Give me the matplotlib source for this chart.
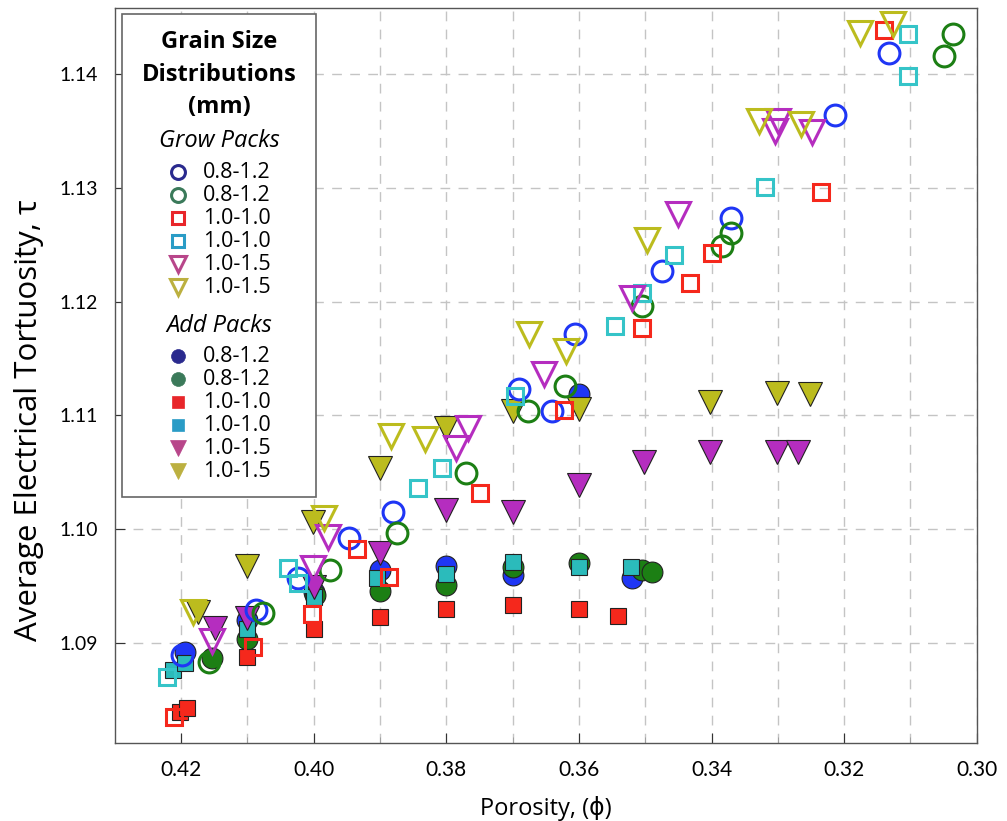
import numpy as np
import matplotlib.pyplot as plt
from matplotlib.patches import Rectangle
from matplotlib.lines import Line2D

plt.rcParams['font.family'] = ['Lato', 'DejaVu Sans']

# ---------------------------------------------------------------- data
# Grow packs (open markers)
grow_b12_phi = [0.4199, 0.4087, 0.4024, 0.3947, 0.3881, 0.3690, 0.3641, 0.3606, 0.3475, 0.3371, 0.3214, 0.3133]
grow_b12_tau = [1.0889, 1.0929, 1.0957, 1.0992, 1.1015, 1.1123, 1.1104, 1.1172, 1.1227, 1.1274, 1.1364, 1.1419]

grow_g12_phi = [0.4158, 0.4077, 0.3976, 0.3875, 0.3771, 0.3677, 0.3621, 0.3505, 0.3385, 0.3370, 0.3050, 0.3036]
grow_g12_tau = [1.0883, 1.0926, 1.0964, 1.0997, 1.1049, 1.1104, 1.1126, 1.1196, 1.1249, 1.1260, 1.1416, 1.1435]

grow_r10_phi = [0.4211, 0.4092, 0.4003, 0.3934, 0.3886, 0.3749, 0.3623, 0.3505, 0.3433, 0.3399, 0.3235, 0.3140]
grow_r10_tau = [1.0835, 1.0896, 1.0925, 1.0983, 1.0958, 1.1032, 1.1105, 1.1177, 1.1216, 1.1243, 1.1296, 1.1439]

grow_c10_phi = [0.4221, 0.4039, 0.4023, 0.3842, 0.3806, 0.3696, 0.3546, 0.3505, 0.3457, 0.3320, 0.3104, 0.3104]
grow_c10_tau = [1.0870, 1.0966, 1.0953, 1.1036, 1.1054, 1.1117, 1.1179, 1.1208, 1.1241, 1.1301, 1.1398, 1.1435]

grow_m15_phi = [0.4153, 0.4001, 0.3979, 0.3785, 0.3768, 0.3653, 0.3520, 0.3450, 0.3305, 0.3300, 0.3248]
grow_m15_tau = [1.0902, 1.0966, 1.0993, 1.1071, 1.1089, 1.1136, 1.1203, 1.1277, 1.1350, 1.1359, 1.1349]

grow_y15_phi = [0.4182, 0.3984, 0.3883, 0.3832, 0.3675, 0.3620, 0.3498, 0.3328, 0.3265, 0.3176, 0.3126]
grow_y15_tau = [1.0927, 1.1010, 1.1082, 1.1079, 1.1172, 1.1157, 1.1254, 1.1359, 1.1356, 1.1436, 1.1444]

# Add packs (filled markers)
add_b12_phi = [0.4194, 0.4100, 0.4000, 0.3900, 0.3801, 0.3700, 0.3600, 0.3520]
add_b12_tau = [1.0892, 1.0920, 1.0945, 1.0964, 1.0968, 1.0960, 1.1119, 1.0957]

add_g12_phi = [0.4153, 0.4100, 0.3998, 0.3900, 0.3801, 0.3700, 0.3600, 0.3505, 0.3490]
add_g12_tau = [1.0887, 1.0903, 1.0942, 1.0946, 1.0951, 1.0967, 1.0970, 1.0964, 1.0962]

add_r10_phi = [0.4202, 0.4191, 0.4100, 0.4000, 0.3900, 0.3801, 0.3700, 0.3600, 0.3541]
add_r10_tau = [1.0839, 1.0843, 1.0888, 1.0912, 1.0923, 1.0930, 1.0933, 1.0930, 1.0924]

add_c10_phi = [0.4212, 0.4194, 0.4100, 0.4000, 0.3904, 0.3801, 0.3700, 0.3600, 0.3522]
add_c10_tau = [1.0876, 1.0882, 1.0912, 1.0940, 1.0957, 1.0961, 1.0971, 1.0967, 1.0967]

add_m15_phi = [0.4149, 0.4100, 0.4000, 0.3900, 0.3801, 0.3700, 0.3600, 0.3502, 0.3402, 0.3302, 0.3269]
add_m15_tau = [1.0913, 1.0922, 1.0949, 1.0979, 1.1017, 1.1015, 1.1039, 1.1059, 1.1068, 1.1068, 1.1068]

add_y15_phi = [0.4174, 0.4100, 0.4001, 0.3900, 0.3800, 0.3700, 0.3600, 0.3402, 0.3302, 0.3251]
add_y15_tau = [1.0927, 1.0968, 1.1006, 1.1054, 1.1089, 1.1104, 1.1106, 1.1112, 1.1120, 1.1119]

labels = ['0.8-1.2', '0.8-1.2', '1.0-1.0', '1.0-1.0', '1.0-1.5', '1.0-1.5']

# ---------------------------------------------------------------- styles
blue = '#1f36f5'
green = '#1c7f14'
red = '#f5281c'
cyan_open = '#35c4c8'
cyan_fill = '#2bbbbb'
magenta = '#b52dbf'
olive = '#bcbc1e'
txt_font = ['Open Sans', 'DejaVu Sans']

fig = plt.figure(figsize=(10.07, 8.21), dpi=100)
ax = fig.add_axes([0.114, 0.095, 0.856, 0.895])

def filled(x, y, marker, color, ms):
    ax.plot(x, y, ls='none', marker=marker, ms=ms, mfc=color, mec='#222222', mew=0.8, zorder=3)

def hollow(x, y, marker, color, ms):
    ax.plot(x, y, ls='none', marker=marker, ms=ms, mfc='none', mec=color, mew=2.2, zorder=4)

filled(add_b12_phi, add_b12_tau, 'o', blue, 15)
filled(add_g12_phi, add_g12_tau, 'o', green, 15)
filled(add_r10_phi, add_r10_tau, 's', red, 12)
filled(add_c10_phi, add_c10_tau, 's', cyan_fill, 12)
filled(add_m15_phi, add_m15_tau, 'v', magenta, 17)
filled(add_y15_phi, add_y15_tau, 'v', olive, 17)

hollow(grow_b12_phi, grow_b12_tau, 'o', blue, 15)
hollow(grow_g12_phi, grow_g12_tau, 'o', green, 15)
hollow(grow_r10_phi, grow_r10_tau, 's', red, 12)
hollow(grow_c10_phi, grow_c10_tau, 's', cyan_open, 12)
hollow(grow_m15_phi, grow_m15_tau, 'v', magenta, 17)
hollow(grow_y15_phi, grow_y15_tau, 'v', olive, 17)

# ---------------------------------------------------------------- axes
ax.set_xlim(0.43, 0.30)
ax.set_ylim(1.0812, 1.1458)
ax.set_xticks(np.arange(0.42, 0.299, -0.02))
ax.set_xticklabels(['0.42', '0.40', '0.38', '0.36', '0.34', '0.32', '0.30'])
ax.set_xticks(np.arange(0.41, 0.30, -0.02), minor=True)
ax.set_yticks(np.arange(1.09, 1.1401, 0.01))
ax.set_yticklabels(['1.09', '1.10', '1.11', '1.12', '1.13', '1.14'])
ax.tick_params(axis='both', which='major', direction='in', length=7, labelsize=14, pad=12,
               color='#333333')
ax.tick_params(axis='x', labelsize=15)
ax.tick_params(axis='x', which='minor', direction='in', length=4, color='#999999')
ax.grid(True, which='both', ls=(0, (7, 6)), color='#c4c4c4', lw=1.0)
ax.set_axisbelow(True)
for s in ax.spines.values():
    s.set_color('#555555')
    s.set_linewidth(1.0)

ax.set_xlabel('Porosity, (ϕ)', fontsize=17, labelpad=12, family=txt_font)
ax.set_ylabel('Average Electrical Tortuosity, τ', fontsize=22.5, labelpad=8, family=txt_font)
ax.yaxis.set_label_coords(-0.082, 0.44)

# ---------------------------------------------------------------- legend box
tr = ax.transAxes
ax.add_patch(Rectangle((0.008, 0.335), 0.225, 0.657, transform=tr, facecolor='white',
                       edgecolor='#666666', lw=1.2, zorder=10))
cx = 0.121
for yy, txt in [(0.954, 'Grain Size'), (0.909, 'Distributions'), (0.865, '(mm)')]:
    ax.text(cx, yy, txt, transform=tr, ha='center', va='center', fontsize=17,
            fontweight='bold', family=txt_font, zorder=11)
ax.text(cx, 0.819, 'Grow Packs', transform=tr, ha='center', va='center', fontsize=17,
        style='italic', family=txt_font, zorder=11)
ax.text(cx, 0.567, 'Add Packs', transform=tr, ha='center', va='center', fontsize=17,
        style='italic', family=txt_font, zorder=11)

leg_colors = ['#2a2a8e', '#3b7a5a', '#e8262a', '#2a9cc6', '#b8468a', '#bcb040']
leg_markers = ['o', 'o', 's', 's', 'v', 'v']
leg_ms = [10, 10, 9, 9, 12, 12]
grow_rows = np.linspace(0.777, 0.620, 6)
add_rows = np.linspace(0.5265, 0.370, 6)
mx, lx = 0.073, 0.102
for i in range(6):
    ax.add_line(Line2D([mx], [grow_rows[i]], transform=tr, ls='none', marker=leg_markers[i],
                       ms=leg_ms[i], mfc='none', mec=leg_colors[i], mew=2.2, zorder=11))
    ax.text(lx, grow_rows[i], labels[i], transform=tr, va='center', fontsize=15.5,
            family=txt_font, zorder=11)
    ax.add_line(Line2D([mx], [add_rows[i]], transform=tr, ls='none', marker=leg_markers[i],
                       ms=leg_ms[i], mfc=leg_colors[i], mec=leg_colors[i], mew=0.5, zorder=11))
    ax.text(lx, add_rows[i], labels[i], transform=tr, va='center', fontsize=15.5,
            family=txt_font, zorder=11)

plt.savefig('out.png', dpi=100)
